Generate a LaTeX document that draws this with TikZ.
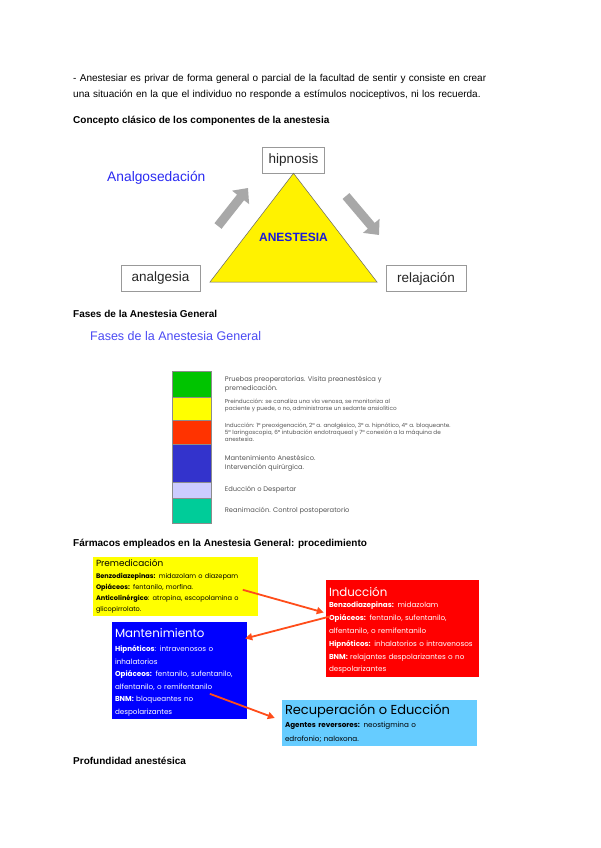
\documentclass[tikz,border=0pt]{standalone}
\usepackage{fontspec}
\setmainfont{Liberation Sans}
\newfontfamily\gothic{Poppins}
\usetikzlibrary{arrows.meta, positioning, calc}
\definecolor{anablue}{HTML}{2B2BF2}
\definecolor{anadark}{HTML}{1A1ADB}
\definecolor{anagray}{HTML}{A8A8A8}
\definecolor{fasegreen}{HTML}{00C400}
\definecolor{faseyellow}{HTML}{FFFF00}
\definecolor{fasered}{HTML}{FF3300}
\definecolor{faseblue}{HTML}{3333CC}
\definecolor{faselilac}{HTML}{CCCCFF}
\definecolor{faseteal}{HTML}{00CC99}
\definecolor{fasegray}{HTML}{555555}
\definecolor{boxyellow}{HTML}{FFFF00}
\definecolor{boxred}{HTML}{FF0000}
\definecolor{boxblue}{HTML}{0000FF}
\definecolor{boxsky}{HTML}{66CCFF}
\definecolor{arroworange}{HTML}{FF4D1A}

\begin{document}
\begin{tikzpicture}[x=1pt, y=-1pt,
  heading/.style={anchor=base west, inner sep=0pt, font=\fontsize{10}{12}\selectfont\bfseries},
  bodytext/.style={anchor=base west, inner sep=0pt, align=left, text width=480pt, font=\fontsize{10}{15.5}\selectfont},
  compbox/.style={draw=black!40, line width=0.6pt, fill=white, minimum height=26pt, inner sep=0pt, text=black!85, font=\fontsize{13.5}{15}\selectfont},
  bigarrow/.style={anagray, line width=9pt, -{Triangle[length=12pt, width=21pt]}},
  fasebar/.style={draw=black!45, line width=0.4pt, minimum width=39pt, inner sep=0pt},
  fasetext/.style={anchor=west, align=left, inner sep=0pt, text=fasegray, font=\gothic\fontsize{6.7}{9}\selectfont},
  smallfase/.style={fasetext, font=\gothic\fontsize{5.7}{6.8}\selectfont},
  drugtitle/.style={anchor=base west, inner sep=0pt, font=\gothic\fontsize{11.8}{13}\selectfont},
  drugtext/.style={anchor=base west, inner sep=0pt, align=left, text width=190pt, font=\gothic\fontsize{7.2}{12.8}\selectfont},
  drugarrow/.style={arroworange, line width=1.8pt, -{Triangle[length=7pt, width=7pt]}}
]
  \useasboundingbox (0,0) rectangle (600,848);
  \fill[white] (0,0) rectangle (600,848);

  % Intro
  \node[bodytext] (intro) at (73,82) {- Anestesiar es privar de forma general o parcial de la facultad de sentir y consiste en crear\\
    una situación en la que el individuo no responde a estímulos nociceptivos, ni los recuerda.};
  \node[heading] (concepto) at (73,124) {Concepto clásico de los componentes de la anestesia};

  % Triangle of components
  \node[compbox, minimum width=62pt] (hipnosis) at (293.5,160) {hipnosis};
  \node[compbox, minimum width=79pt] (analgesia) at (160.5,278.5) {analgesia};
  \node[compbox, minimum width=80pt] (relajacion) at (426,278.5) {relajación};
  \node[anchor=west, inner sep=0pt, text=anablue, font=\fontsize{13.8}{15}\selectfont] (analgosed) at (107,178) {Analgosedación};
  \coordinate (baseL) at (210,282);
  \coordinate (baseR) at (377,282);
  \draw[black!60, line width=0.5pt, fill=yellow] (hipnosis.south) -- (baseR) -- (baseL) -- cycle;
  \node[text=anadark, font=\fontsize{12}{14}\selectfont\bfseries] (anestesia) at (293.5,237) {ANESTESIA};
  \coordinate (upA) at (218,226);
  \coordinate (upB) at (248,188);
  \coordinate (downA) at (346,196);
  \coordinate (downB) at (379,235);
  \draw[bigarrow] (upA) -- (upB);
  \draw[bigarrow] (downA) -- (downB);

  % Phases
  \node[heading] (fases) at (73,317) {Fases de la Anestesia General};
  \node[anchor=base west, inner sep=0pt, text=anablue!85, font=\fontsize{12.5}{14}\selectfont] (fasestitle) at (90,340) {Fases de la Anestesia General};

  \node[fasebar, fill=fasegreen, minimum height=26pt] (preop) at (191.5,384) {};
  \node[fasebar, fill=faseyellow, minimum height=23pt] (preind) at (191.5,408.5) {};
  \node[fasebar, fill=fasered, minimum height=24pt] (induct) at (191.5,432) {};
  \node[fasebar, fill=faseblue, minimum height=38pt] (maint) at (191.5,463) {};
  \node[fasebar, fill=faselilac, minimum height=16pt] (educ) at (191.5,490) {};
  \node[fasebar, fill=faseteal, minimum height=25pt] (reanim) at (191.5,510.5) {};

  \node[fasetext, right=13.5pt of preop] (preoptxt) {Pruebas preoperatorias. Visita preanestésica y\\premedicación.};
  \node[smallfase, right=13.5pt of preind, yshift=3pt] (preindtxt) {Preinducción: se canaliza una vía venosa, se monitoriza al\\paciente y puede, o no, administrarse un sedante ansiolítico};
  \node[smallfase, right=13.5pt of induct] (inducttxt) {Inducción: 1º preoxigenación, 2º a. analgésico, 3º a. hipnótico, 4º a. bloqueante.\\5º laringoscopia, 6º intubación endotraqueal y 7º conexión a la máquina de\\anestesia.};
  \node[fasetext, right=13.5pt of maint] (mainttxt) {Mantenimiento Anestésico.\\Intervención quirúrgica.};
  \node[fasetext, right=13.5pt of educ] (eductxt) {Educción o Despertar};
  \node[fasetext, right=13.5pt of reanim] (reanimtxt) {Reanimación. Control postoperatorio};

  % Drugs
  \node[heading] (farmacos) at (73,546) {Fármacos empleados en la Anestesia General: procedimiento};

  \node[fill=boxyellow, minimum width=165pt, minimum height=59pt, inner sep=0pt] (premed) at (175.5,586.5) {};
  \node[drugtitle, font=\gothic\fontsize{8.9}{10}\selectfont] (premedT) at ($(premed.north west)+(3,10)$) {Premedicación};
  \node[drugtext, text width=160pt, font=\gothic\fontsize{6.6}{11}\selectfont] (premedB) at ($(premed.north west)+(3,22)$) {\textbf{Benzodiazepinas:} midazolam o diazepam\\
    \textbf{Opiáceos:} fentanilo, morfina.\\
    \textbf{Anticolinérgico}: atropina, escopolamina o\\
    glicopirrolato.};

  \node[fill=boxred, minimum width=153pt, minimum height=97pt, inner sep=0pt] (induc) at (402.5,628.5) {};
  \node[drugtitle, text=white] (inducT) at ($(induc.north west)+(3,17)$) {Inducción};
  \node[drugtext, text width=150pt, text=white] (inducB) at ($(induc.north west)+(3,28)$) {\textbf{Benzodiazepinas:} midazolam\\
    \textbf{Opiáceos:} fentanilo, sufentanilo,\\
    alfentanilo, o remifentanilo\\
    \textbf{Hipnóticos:} inhalatorios o intravenosos\\
    \textbf{BNM:} relajantes despolarizantes o no\\
    despolarizantes};

  \node[fill=boxblue, minimum width=135pt, minimum height=97pt, inner sep=0pt] (mant) at (179.5,670.5) {};
  \node[drugtitle, text=white] (mantT) at ($(mant.north west)+(3,16)$) {Mantenimiento};
  \node[drugtext, text width=130pt, text=white, font=\gothic\fontsize{7.2}{12.5}\selectfont] (mantB) at ($(mant.north west)+(3,30)$) {\textbf{Hipnóticos}: intravenosos o\\
    inhalatorios\\
    \textbf{Opiáceos:} fentanilo, sufentanilo,\\
    alfentanilo, o remifentanilo\\
    \textbf{BNM:} bloqueantes no\\
    despolarizantes};

  \node[fill=boxsky, minimum width=195pt, minimum height=46pt, inner sep=0pt] (recup) at (379.5,723) {};
  \node[drugtitle, font=\gothic\fontsize{13}{14}\selectfont] (recupT) at ($(recup.north west)+(3,15)$) {Recuperación o Educción};
  \node[drugtext, text width=190pt, font=\gothic\fontsize{7.2}{14}\selectfont] (recupB) at ($(recup.north west)+(3,28)$) {\textbf{Agentes reversores:} neostigmina o\\
    edrofonio; naloxona.};

  \coordinate (premedOut) at ($(premed.north west)+(150,33)$);
  \coordinate (mantOut) at ($(mant.north west)+(98,72)$);
  \draw[drugarrow] (premedOut) -- ($(induc.west)+(-2,-16)$);
  \draw[drugarrow] ($(induc.west)+(4,-12)$) -- ($(mant.east)+(-2,-32)$);
  \draw[drugarrow] (mantOut) -- ($(recup.west)+(-7,-5)$);

  % Depth
  \node[heading] (profundidad) at (73,764) {Profundidad anestésica};
\end{tikzpicture}
\end{document}
